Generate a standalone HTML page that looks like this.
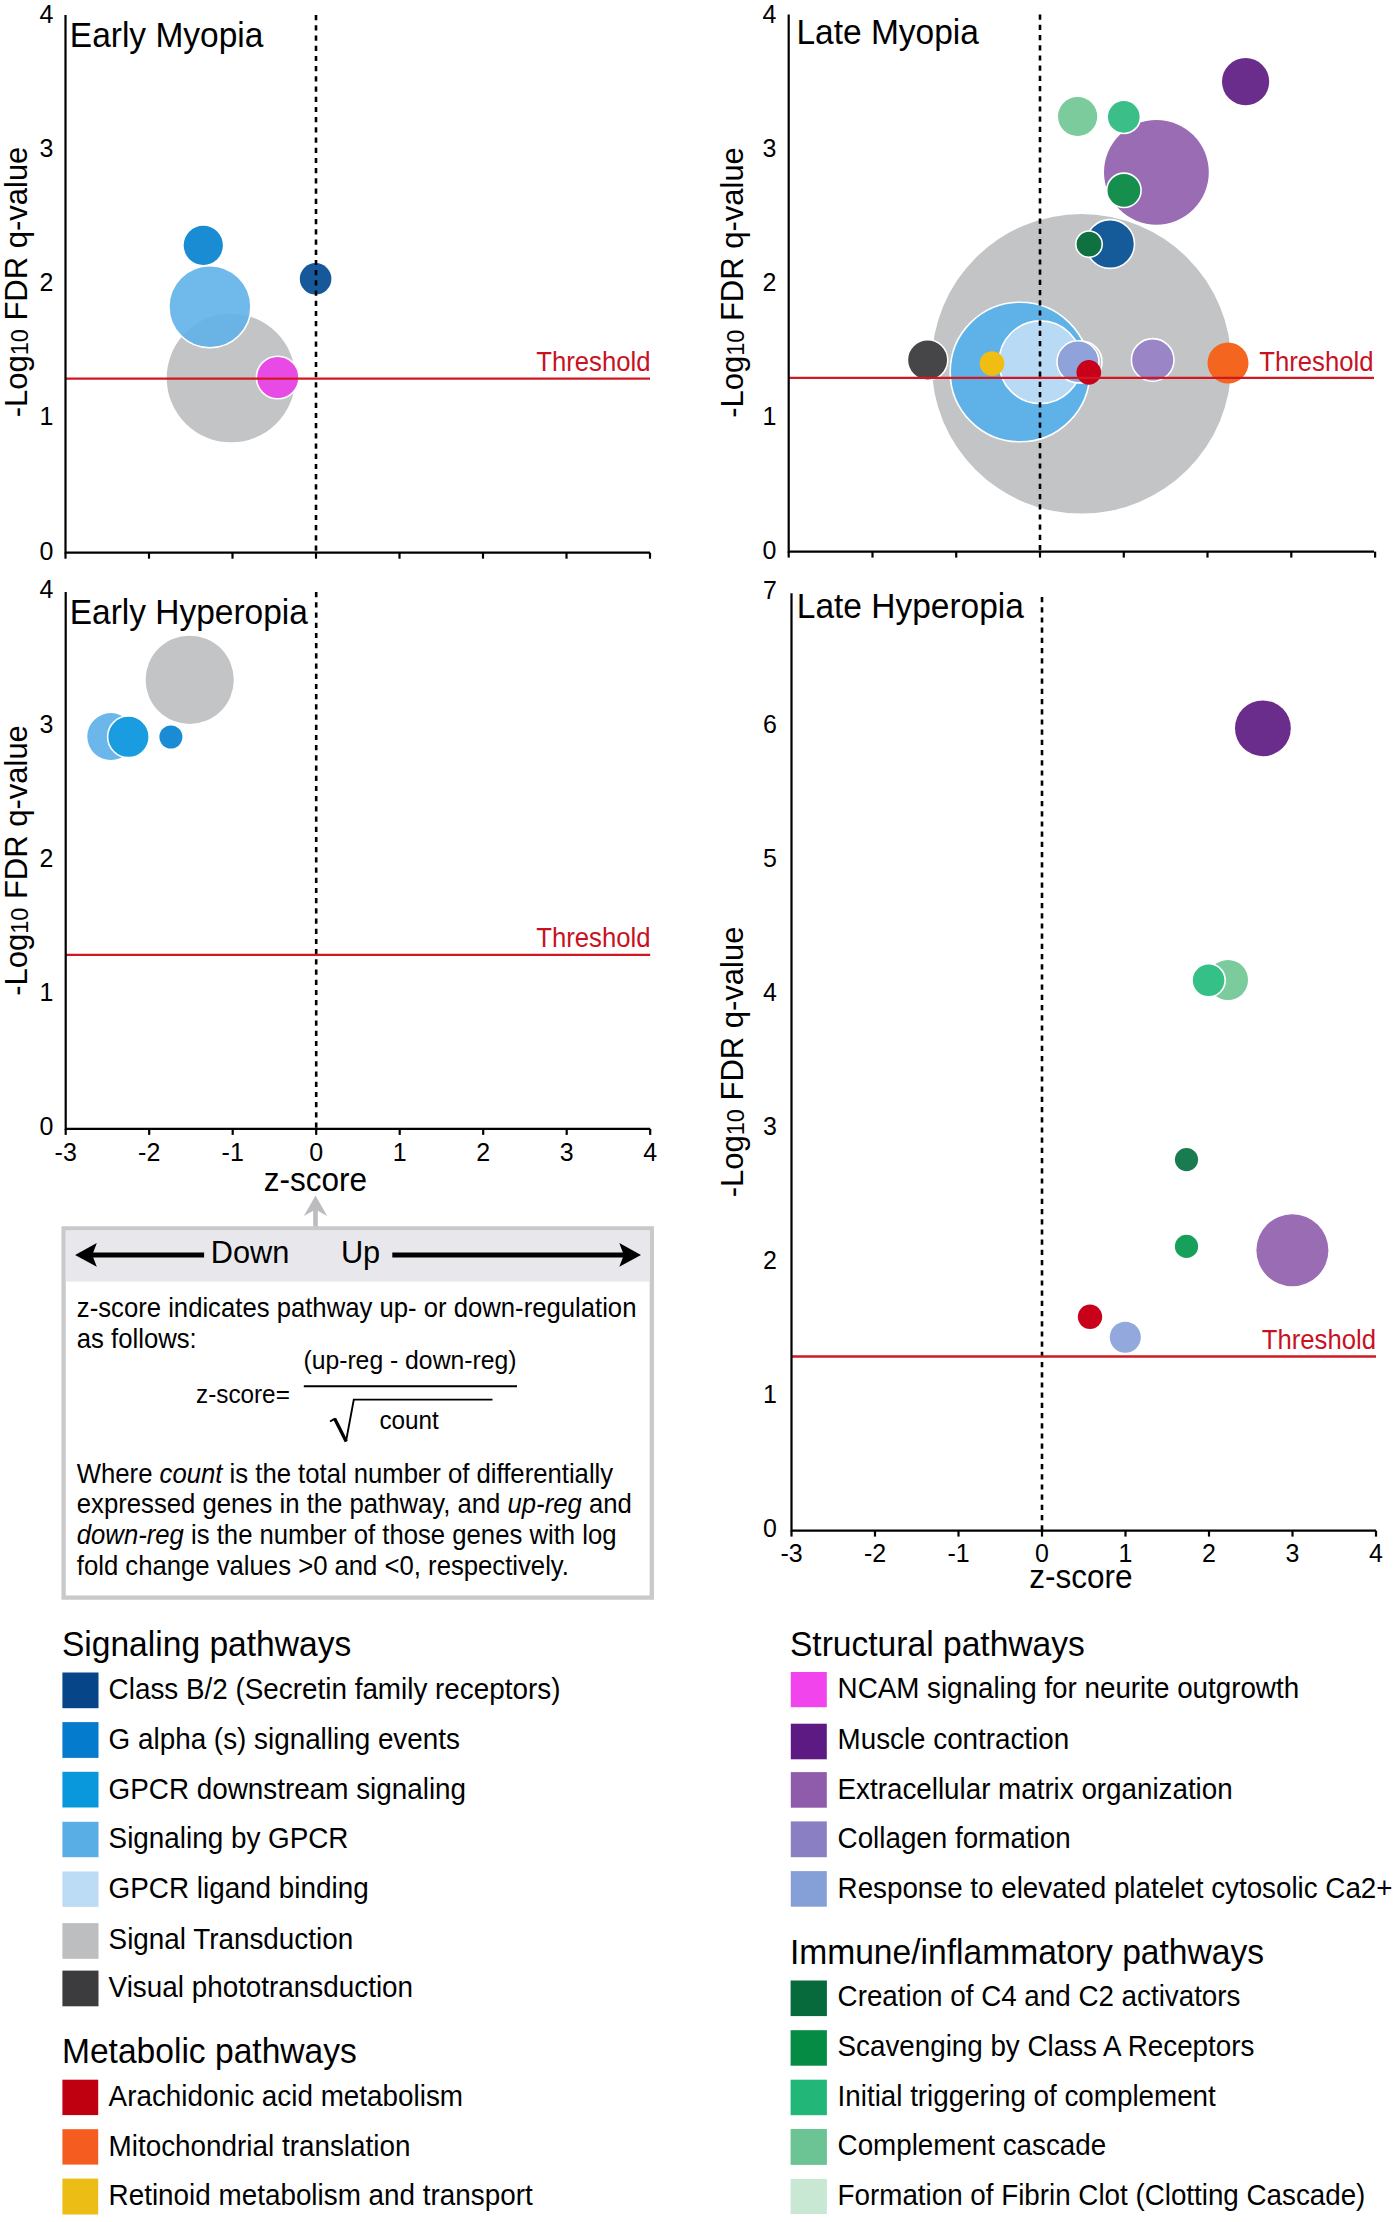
<!DOCTYPE html><html><head><meta charset="utf-8"><style>html,body{margin:0;padding:0;background:#fff;overflow:hidden;}svg{display:block;}text{font-family:"Liberation Sans",sans-serif;fill:#000;}</style></head><body>
<svg width="1395" height="2222" viewBox="0 0 1395 2222">
<rect width="1395" height="2222" fill="#fff"/>
<circle cx="231" cy="378" r="64.3" fill="#c3c4c6"/>
<circle cx="209.9" cy="306.7" r="41.0" fill="#5fb2e8" fill-opacity="0.9" stroke="#fff" stroke-width="1.6"/>
<circle cx="203.3" cy="245.3" r="19.6" fill="#1a8cd4"/>
<circle cx="277.7" cy="377.5" r="21.3" fill="#e84ae6" stroke="#fff" stroke-width="1.6"/>
<circle cx="315.6" cy="278.8" r="15.8" fill="#17589a"/>
<line x1="316.0" y1="15.1" x2="316.0" y2="552.7" stroke="#000" stroke-width="2.6" stroke-dasharray="5.2 5"/>
<line x1="65.5" y1="378.6" x2="650.0" y2="378.6" stroke="#cf1822" stroke-width="2.3"/>
<text transform="translate(650.5 371.1) scale(1 1.04)" font-size="25.7" style="fill:#c8121f" text-anchor="end">Threshold</text>
<path d="M65.5 15.1 V552.7 H650.0" fill="none" stroke="#000" stroke-width="2.2"/>
<line x1="65.5" y1="552.7" x2="65.5" y2="558.7" stroke="#000" stroke-width="2.2"/>
<line x1="149.0" y1="552.7" x2="149.0" y2="558.7" stroke="#000" stroke-width="2.2"/>
<line x1="232.5" y1="552.7" x2="232.5" y2="558.7" stroke="#000" stroke-width="2.2"/>
<line x1="316.0" y1="552.7" x2="316.0" y2="558.7" stroke="#000" stroke-width="2.2"/>
<line x1="399.5" y1="552.7" x2="399.5" y2="558.7" stroke="#000" stroke-width="2.2"/>
<line x1="483.0" y1="552.7" x2="483.0" y2="558.7" stroke="#000" stroke-width="2.2"/>
<line x1="566.5" y1="552.7" x2="566.5" y2="558.7" stroke="#000" stroke-width="2.2"/>
<line x1="650.0" y1="552.7" x2="650.0" y2="558.7" stroke="#000" stroke-width="2.2"/>
<text transform="translate(53.5 559.5) scale(1 1.04)" font-size="25" text-anchor="end">0</text>
<text transform="translate(53.5 425.4) scale(1 1.04)" font-size="25" text-anchor="end">1</text>
<text transform="translate(53.5 291.2) scale(1 1.04)" font-size="25" text-anchor="end">2</text>
<text transform="translate(53.5 157.0) scale(1 1.04)" font-size="25" text-anchor="end">3</text>
<text transform="translate(53.5 22.9) scale(1 1.04)" font-size="25" text-anchor="end">4</text>
<text transform="translate(69.8 46.6) scale(1 1.04)" font-size="33.5">Early Myopia</text>
<text transform="translate(26.5 282.0) rotate(-90) scale(1 1.04)" font-size="31" text-anchor="middle">-Log<tspan font-size="23.5" dy="1.3">10</tspan><tspan dy="-1.3"> FDR q-value</tspan></text>
<circle cx="1081.5" cy="363.8" r="149.8" fill="#c3c4c6"/>
<circle cx="1020" cy="372" r="69.8" fill="#5fb2e8" stroke="#fff" stroke-width="1.6"/>
<circle cx="1040.3" cy="362.2" r="41.3" fill="#b8daf4" stroke="#fff" stroke-width="1.6"/>
<circle cx="927.6" cy="360" r="20.2" fill="#464648" stroke="#fff" stroke-width="1.6"/>
<circle cx="992" cy="363.5" r="12.3" fill="#f0be12"/>
<circle cx="1081" cy="362" r="21.0" fill="#c4c4c6" fill-opacity="0.0" stroke="#fff" stroke-width="1.6"/>
<circle cx="1078" cy="361.8" r="21.0" fill="#8fa2da" stroke="#fff" stroke-width="1.6"/>
<circle cx="1088.8" cy="372.4" r="12.3" fill="#c8001a"/>
<circle cx="1152.7" cy="359.9" r="21.3" fill="#9a86c6" stroke="#fff" stroke-width="1.6"/>
<circle cx="1228" cy="363" r="20.5" fill="#f46620"/>
<circle cx="1156.4" cy="172.3" r="52.4" fill="#9a6cb3"/>
<circle cx="1077.6" cy="116.5" r="19.6" fill="#7ccb9c"/>
<circle cx="1123.8" cy="116.9" r="16.6" fill="#3cbe88" stroke="#fff" stroke-width="1.6"/>
<circle cx="1123.9" cy="190.3" r="17.2" fill="#168f4e" stroke="#fff" stroke-width="1.6"/>
<circle cx="1110.1" cy="244" r="24.4" fill="#155b99" stroke="#fff" stroke-width="1.6"/>
<circle cx="1089" cy="244.2" r="13.2" fill="#0f7040" stroke="#fff" stroke-width="1.6"/>
<circle cx="1245.6" cy="81.6" r="23.6" fill="#6b2d8b"/>
<line x1="1040.0" y1="14.6" x2="1040.0" y2="551.6" stroke="#000" stroke-width="2.6" stroke-dasharray="5.2 5"/>
<line x1="788.7" y1="377.8" x2="1374.0" y2="377.8" stroke="#cf1822" stroke-width="2.3"/>
<text transform="translate(1373.5 370.5) scale(1 1.04)" font-size="25.7" style="fill:#c8121f" text-anchor="end">Threshold</text>
<path d="M788.7 14.6 V551.6 H1374.0" fill="none" stroke="#000" stroke-width="2.2"/>
<line x1="788.7" y1="551.6" x2="788.7" y2="557.6" stroke="#000" stroke-width="2.2"/>
<line x1="872.5" y1="551.6" x2="872.5" y2="557.6" stroke="#000" stroke-width="2.2"/>
<line x1="956.2" y1="551.6" x2="956.2" y2="557.6" stroke="#000" stroke-width="2.2"/>
<line x1="1040.0" y1="551.6" x2="1040.0" y2="557.6" stroke="#000" stroke-width="2.2"/>
<line x1="1123.8" y1="551.6" x2="1123.8" y2="557.6" stroke="#000" stroke-width="2.2"/>
<line x1="1207.5" y1="551.6" x2="1207.5" y2="557.6" stroke="#000" stroke-width="2.2"/>
<line x1="1291.3" y1="551.6" x2="1291.3" y2="557.6" stroke="#000" stroke-width="2.2"/>
<line x1="1375.1" y1="551.6" x2="1375.1" y2="557.6" stroke="#000" stroke-width="2.2"/>
<text transform="translate(776.5 558.5) scale(1 1.04)" font-size="25" text-anchor="end">0</text>
<text transform="translate(776.5 424.5) scale(1 1.04)" font-size="25" text-anchor="end">1</text>
<text transform="translate(776.5 290.5) scale(1 1.04)" font-size="25" text-anchor="end">2</text>
<text transform="translate(776.5 156.5) scale(1 1.04)" font-size="25" text-anchor="end">3</text>
<text transform="translate(776.5 22.5) scale(1 1.04)" font-size="25" text-anchor="end">4</text>
<text transform="translate(796.5 44.3) scale(1 1.04)" font-size="33.5">Late Myopia</text>
<text transform="translate(742.8 282.5) rotate(-90) scale(1 1.04)" font-size="31" text-anchor="middle">-Log<tspan font-size="23.5" dy="1.3">10</tspan><tspan dy="-1.3"> FDR q-value</tspan></text>
<circle cx="189.7" cy="679.8" r="44.1" fill="#c3c4c6"/>
<circle cx="110.8" cy="736.6" r="23.5" fill="#6bb6ea"/>
<circle cx="128.4" cy="736.8" r="20.8" fill="#1a9de0" stroke="#fff" stroke-width="1.6"/>
<circle cx="170.9" cy="737" r="11.5" fill="#1a8cd4"/>
<line x1="316.2" y1="592.1" x2="316.2" y2="1128.9" stroke="#000" stroke-width="2.6" stroke-dasharray="5.2 5"/>
<line x1="65.7" y1="954.8" x2="650.2" y2="954.8" stroke="#cf1822" stroke-width="2.3"/>
<text transform="translate(650.5 947.3) scale(1 1.04)" font-size="25.7" style="fill:#c8121f" text-anchor="end">Threshold</text>
<path d="M65.7 592.1 V1128.9 H650.2" fill="none" stroke="#000" stroke-width="2.2"/>
<line x1="65.7" y1="1128.9" x2="65.7" y2="1134.9" stroke="#000" stroke-width="2.2"/>
<line x1="149.2" y1="1128.9" x2="149.2" y2="1134.9" stroke="#000" stroke-width="2.2"/>
<line x1="232.7" y1="1128.9" x2="232.7" y2="1134.9" stroke="#000" stroke-width="2.2"/>
<line x1="316.2" y1="1128.9" x2="316.2" y2="1134.9" stroke="#000" stroke-width="2.2"/>
<line x1="399.7" y1="1128.9" x2="399.7" y2="1134.9" stroke="#000" stroke-width="2.2"/>
<line x1="483.2" y1="1128.9" x2="483.2" y2="1134.9" stroke="#000" stroke-width="2.2"/>
<line x1="566.7" y1="1128.9" x2="566.7" y2="1134.9" stroke="#000" stroke-width="2.2"/>
<line x1="650.2" y1="1128.9" x2="650.2" y2="1134.9" stroke="#000" stroke-width="2.2"/>
<text transform="translate(53.5 1135.4) scale(1 1.04)" font-size="25" text-anchor="end">0</text>
<text transform="translate(53.5 1001.1) scale(1 1.04)" font-size="25" text-anchor="end">1</text>
<text transform="translate(53.5 866.8) scale(1 1.04)" font-size="25" text-anchor="end">2</text>
<text transform="translate(53.5 732.5) scale(1 1.04)" font-size="25" text-anchor="end">3</text>
<text transform="translate(53.5 598.2) scale(1 1.04)" font-size="25" text-anchor="end">4</text>
<text transform="translate(65.7 1161.2) scale(1 1.04)" font-size="25" text-anchor="middle">-3</text>
<text transform="translate(149.2 1161.2) scale(1 1.04)" font-size="25" text-anchor="middle">-2</text>
<text transform="translate(232.7 1161.2) scale(1 1.04)" font-size="25" text-anchor="middle">-1</text>
<text transform="translate(316.2 1161.2) scale(1 1.04)" font-size="25" text-anchor="middle">0</text>
<text transform="translate(399.7 1161.2) scale(1 1.04)" font-size="25" text-anchor="middle">1</text>
<text transform="translate(483.2 1161.2) scale(1 1.04)" font-size="25" text-anchor="middle">2</text>
<text transform="translate(566.7 1161.2) scale(1 1.04)" font-size="25" text-anchor="middle">3</text>
<text transform="translate(650.2 1161.2) scale(1 1.04)" font-size="25" text-anchor="middle">4</text>
<text transform="translate(315.4 1191.1) scale(1 1.04)" font-size="31.5" text-anchor="middle">z-score</text>
<text transform="translate(69.7 623.5) scale(1 1.04)" font-size="33.5">Early Hyperopia</text>
<text transform="translate(26.5 860.5) rotate(-90) scale(1 1.04)" font-size="31" text-anchor="middle">-Log<tspan font-size="23.5" dy="1.3">10</tspan><tspan dy="-1.3"> FDR q-value</tspan></text>
<circle cx="1262.9" cy="728.3" r="27.9" fill="#6b2d8b"/>
<circle cx="1228" cy="980" r="20.0" fill="#7ccb9c"/>
<circle cx="1208.6" cy="980.3" r="16.6" fill="#35c088" stroke="#fff" stroke-width="1.6"/>
<circle cx="1186.5" cy="1159.6" r="11.6" fill="#1a7a50"/>
<circle cx="1186.5" cy="1246.4" r="11.6" fill="#17a05a"/>
<circle cx="1292.4" cy="1250.2" r="36.0" fill="#9a6cb3"/>
<circle cx="1090" cy="1316.8" r="12.2" fill="#c8001a"/>
<circle cx="1125.3" cy="1337.2" r="15.5" fill="#93a8dc"/>
<line x1="1042.0" y1="597.0" x2="1042.0" y2="1530.6" stroke="#000" stroke-width="2.6" stroke-dasharray="5.2 5"/>
<line x1="791.5" y1="1356.5" x2="1376.0" y2="1356.5" stroke="#cf1822" stroke-width="2.3"/>
<text transform="translate(1376.0 1348.8) scale(1 1.04)" font-size="25.7" style="fill:#c8121f" text-anchor="end">Threshold</text>
<path d="M791.5 593.3 V1530.6 H1376.0" fill="none" stroke="#000" stroke-width="2.2"/>
<line x1="791.5" y1="1530.6" x2="791.5" y2="1536.6" stroke="#000" stroke-width="2.2"/>
<line x1="875.0" y1="1530.6" x2="875.0" y2="1536.6" stroke="#000" stroke-width="2.2"/>
<line x1="958.5" y1="1530.6" x2="958.5" y2="1536.6" stroke="#000" stroke-width="2.2"/>
<line x1="1042.0" y1="1530.6" x2="1042.0" y2="1536.6" stroke="#000" stroke-width="2.2"/>
<line x1="1125.5" y1="1530.6" x2="1125.5" y2="1536.6" stroke="#000" stroke-width="2.2"/>
<line x1="1209.0" y1="1530.6" x2="1209.0" y2="1536.6" stroke="#000" stroke-width="2.2"/>
<line x1="1292.5" y1="1530.6" x2="1292.5" y2="1536.6" stroke="#000" stroke-width="2.2"/>
<line x1="1376.0" y1="1530.6" x2="1376.0" y2="1536.6" stroke="#000" stroke-width="2.2"/>
<text transform="translate(777.0 1537.3) scale(1 1.04)" font-size="25" text-anchor="end">0</text>
<text transform="translate(777.0 1403.2) scale(1 1.04)" font-size="25" text-anchor="end">1</text>
<text transform="translate(777.0 1269.1) scale(1 1.04)" font-size="25" text-anchor="end">2</text>
<text transform="translate(777.0 1135.0) scale(1 1.04)" font-size="25" text-anchor="end">3</text>
<text transform="translate(777.0 1000.9) scale(1 1.04)" font-size="25" text-anchor="end">4</text>
<text transform="translate(777.0 866.8) scale(1 1.04)" font-size="25" text-anchor="end">5</text>
<text transform="translate(777.0 732.7) scale(1 1.04)" font-size="25" text-anchor="end">6</text>
<text transform="translate(777.0 598.6) scale(1 1.04)" font-size="25" text-anchor="end">7</text>
<text transform="translate(791.5 1561.6) scale(1 1.04)" font-size="25" text-anchor="middle">-3</text>
<text transform="translate(875.0 1561.6) scale(1 1.04)" font-size="25" text-anchor="middle">-2</text>
<text transform="translate(958.5 1561.6) scale(1 1.04)" font-size="25" text-anchor="middle">-1</text>
<text transform="translate(1042.0 1561.6) scale(1 1.04)" font-size="25" text-anchor="middle">0</text>
<text transform="translate(1125.5 1561.6) scale(1 1.04)" font-size="25" text-anchor="middle">1</text>
<text transform="translate(1209.0 1561.6) scale(1 1.04)" font-size="25" text-anchor="middle">2</text>
<text transform="translate(1292.5 1561.6) scale(1 1.04)" font-size="25" text-anchor="middle">3</text>
<text transform="translate(1376.0 1561.6) scale(1 1.04)" font-size="25" text-anchor="middle">4</text>
<text transform="translate(1080.8 1587.5) scale(1 1.04)" font-size="31.5" text-anchor="middle">z-score</text>
<text transform="translate(796.8 618.2) scale(1 1.04)" font-size="33.5">Late Hyperopia</text>
<text transform="translate(742.8 1061.9) rotate(-90) scale(1 1.04)" font-size="31" text-anchor="middle">-Log<tspan font-size="23.5" dy="1.3">10</tspan><tspan dy="-1.3"> FDR q-value</tspan></text>
<path d="M315.5 1195.4 L303.9 1215.9 L313.2 1210.8 V1227 H317.8 V1210.8 L327.2 1215.9 Z" fill="#bcbcbe"/>
<rect x="63.6" y="1228.4" width="588.2" height="369.2" fill="#fff" stroke="#c8c9cb" stroke-width="4.3"/>
<rect x="65.7" y="1230.5" width="584" height="51.1" fill="#e8e8ec"/>
<line x1="90" y1="1254.9" x2="204.1" y2="1254.9" stroke="#000" stroke-width="5"/>
<path d="M75.1 1254.9 L96.8 1243 L92.3 1254.9 L96.8 1266.8 Z" fill="#000"/>
<line x1="392.3" y1="1254.9" x2="626" y2="1254.9" stroke="#000" stroke-width="5"/>
<path d="M641 1254.9 L619.3 1243 L623.8 1254.9 L619.3 1266.8 Z" fill="#000"/>
<text transform="translate(210.8 1263.0) scale(1 1.04)" font-size="30.75">Down</text>
<text transform="translate(340.9 1263.0) scale(1 1.04)" font-size="30.75">Up</text>
<text transform="translate(76.8 1316.8) scale(1 1.04)" font-size="25.7">z-score indicates pathway up- or down-regulation</text>
<text transform="translate(76.8 1347.5) scale(1 1.04)" font-size="25.7">as follows:</text>
<text transform="translate(303.4 1369) scale(1 1.04)" font-size="24.75">(up-reg - down-reg)</text>
<line x1="303.8" y1="1386.3" x2="517" y2="1386.3" stroke="#000" stroke-width="2"/>
<text transform="translate(196 1403.3) scale(1 1.04)" font-size="24.3">z-score=</text>
<path d="M330 1421.5 L335 1418.6 M346 1441.4 L353.8 1399.6 H492.5" fill="none" stroke="#000" stroke-width="1.9"/>
<path d="M334.6 1418.4 L346.2 1441.6" fill="none" stroke="#000" stroke-width="3.3"/>
<text transform="translate(379.4 1428.5) scale(1 1.04)" font-size="24.3">count</text>
<text transform="translate(76.8 1482.7) scale(1 1.04)" font-size="25.7">Where <tspan font-style="italic">count</tspan> is the total number of differentially</text>
<text transform="translate(76.8 1513.4) scale(1 1.04)" font-size="25.7">expressed genes in the pathway, and <tspan font-style="italic">up-reg</tspan> and</text>
<text transform="translate(76.8 1544.1) scale(1 1.04)" font-size="25.7"><tspan font-style="italic">down-reg</tspan> is the number of those genes with log</text>
<text transform="translate(76.8 1575.3) scale(1 1.04)" font-size="25.7">fold change values &gt;0 and &lt;0, respectively.</text>
<text transform="translate(61.9 1656.2) scale(1 1.04)" font-size="33.6">Signaling pathways</text>
<rect x="62.4" y="1672.5" width="36.1" height="35.7" fill="#064688"/>
<text transform="translate(108.6 1699.2) scale(1 1.04)" font-size="27.85">Class B/2 (Secretin family receptors)</text>
<rect x="62.4" y="1722.1" width="36.1" height="35.8" fill="#047bcc"/>
<text transform="translate(108.6 1748.9) scale(1 1.04)" font-size="27.85">G alpha (s) signalling events</text>
<rect x="62.4" y="1771.8" width="36.1" height="35.7" fill="#0a98dd"/>
<text transform="translate(108.6 1798.5) scale(1 1.04)" font-size="27.85">GPCR downstream signaling</text>
<rect x="62.4" y="1821.8" width="36.1" height="35.4" fill="#5aaee6"/>
<text transform="translate(108.6 1847.9) scale(1 1.04)" font-size="27.85">Signaling by GPCR</text>
<rect x="62.4" y="1871.5" width="36.1" height="35.4" fill="#bcdcf6"/>
<text transform="translate(108.6 1897.9) scale(1 1.04)" font-size="27.85">GPCR ligand binding</text>
<rect x="62.4" y="1923.1" width="36.1" height="35.7" fill="#bdbec0"/>
<text transform="translate(108.6 1949.2) scale(1 1.04)" font-size="27.85">Signal Transduction</text>
<rect x="62.4" y="1970.6" width="36.1" height="35.7" fill="#3c3c3e"/>
<text transform="translate(108.6 1997.3) scale(1 1.04)" font-size="27.85">Visual phototransduction</text>
<text transform="translate(61.9 2062.9) scale(1 1.04)" font-size="33.6">Metabolic pathways</text>
<rect x="62.4" y="2079.7" width="35.8" height="35.4" fill="#be0010"/>
<text transform="translate(108.6 2106.0) scale(1 1.04)" font-size="27.85">Arachidonic acid metabolism</text>
<rect x="62.4" y="2129.2" width="35.8" height="35.4" fill="#f55d20"/>
<text transform="translate(108.6 2155.5) scale(1 1.04)" font-size="27.85">Mitochondrial translation</text>
<rect x="62.4" y="2178.6" width="35.8" height="35.9" fill="#ecbd14"/>
<text transform="translate(108.6 2205.4) scale(1 1.04)" font-size="27.85">Retinoid metabolism and transport</text>
<text transform="translate(789.9 1656.2) scale(1 1.04)" font-size="33.6">Structural pathways</text>
<rect x="790.8" y="1672.0" width="36.0" height="35.2" fill="#f244ec"/>
<text transform="translate(837.6 1697.6) scale(1 1.04)" font-size="27.78">NCAM signaling for neurite outgrowth</text>
<rect x="790.8" y="1723.7" width="36.0" height="35.6" fill="#5c1a82"/>
<text transform="translate(837.6 1748.8) scale(1 1.04)" font-size="27.78">Muscle contraction</text>
<rect x="790.8" y="1772.1" width="36.0" height="35.6" fill="#8e5cab"/>
<text transform="translate(837.6 1798.9) scale(1 1.04)" font-size="27.78">Extracellular matrix organization</text>
<rect x="790.8" y="1821.4" width="36.0" height="35.8" fill="#8a7fc2"/>
<text transform="translate(837.6 1848.2) scale(1 1.04)" font-size="27.78">Collagen formation</text>
<rect x="790.8" y="1871.1" width="36.0" height="35.6" fill="#84a0d6"/>
<text transform="translate(837.6 1897.9) scale(1 1.04)" font-size="27.78">Response to elevated platelet cytosolic Ca2+</text>
<text transform="translate(789.9 1964.0) scale(1 1.04)" font-size="33.6">Immune/inflammatory pathways</text>
<rect x="790.6" y="1980.5" width="36.3" height="35.6" fill="#066a3c"/>
<text transform="translate(837.6 2006.4) scale(1 1.04)" font-size="27.78">Creation of C4 and C2 activators</text>
<rect x="790.6" y="2030.2" width="36.3" height="35.5" fill="#058b44"/>
<text transform="translate(837.6 2056.1) scale(1 1.04)" font-size="27.78">Scavenging by Class A Receptors</text>
<rect x="790.6" y="2079.7" width="36.3" height="35.5" fill="#22b678"/>
<text transform="translate(837.6 2106.1) scale(1 1.04)" font-size="27.78">Initial triggering of complement</text>
<rect x="790.6" y="2129.0" width="36.3" height="35.9" fill="#6cc495"/>
<text transform="translate(837.6 2154.9) scale(1 1.04)" font-size="27.78">Complement cascade</text>
<rect x="790.6" y="2178.9" width="36.3" height="35.1" fill="#c8e8d3"/>
<text transform="translate(837.6 2205.0) scale(1 1.04)" font-size="27.78">Formation of Fibrin Clot (Clotting Cascade)</text>
</svg></body></html>
